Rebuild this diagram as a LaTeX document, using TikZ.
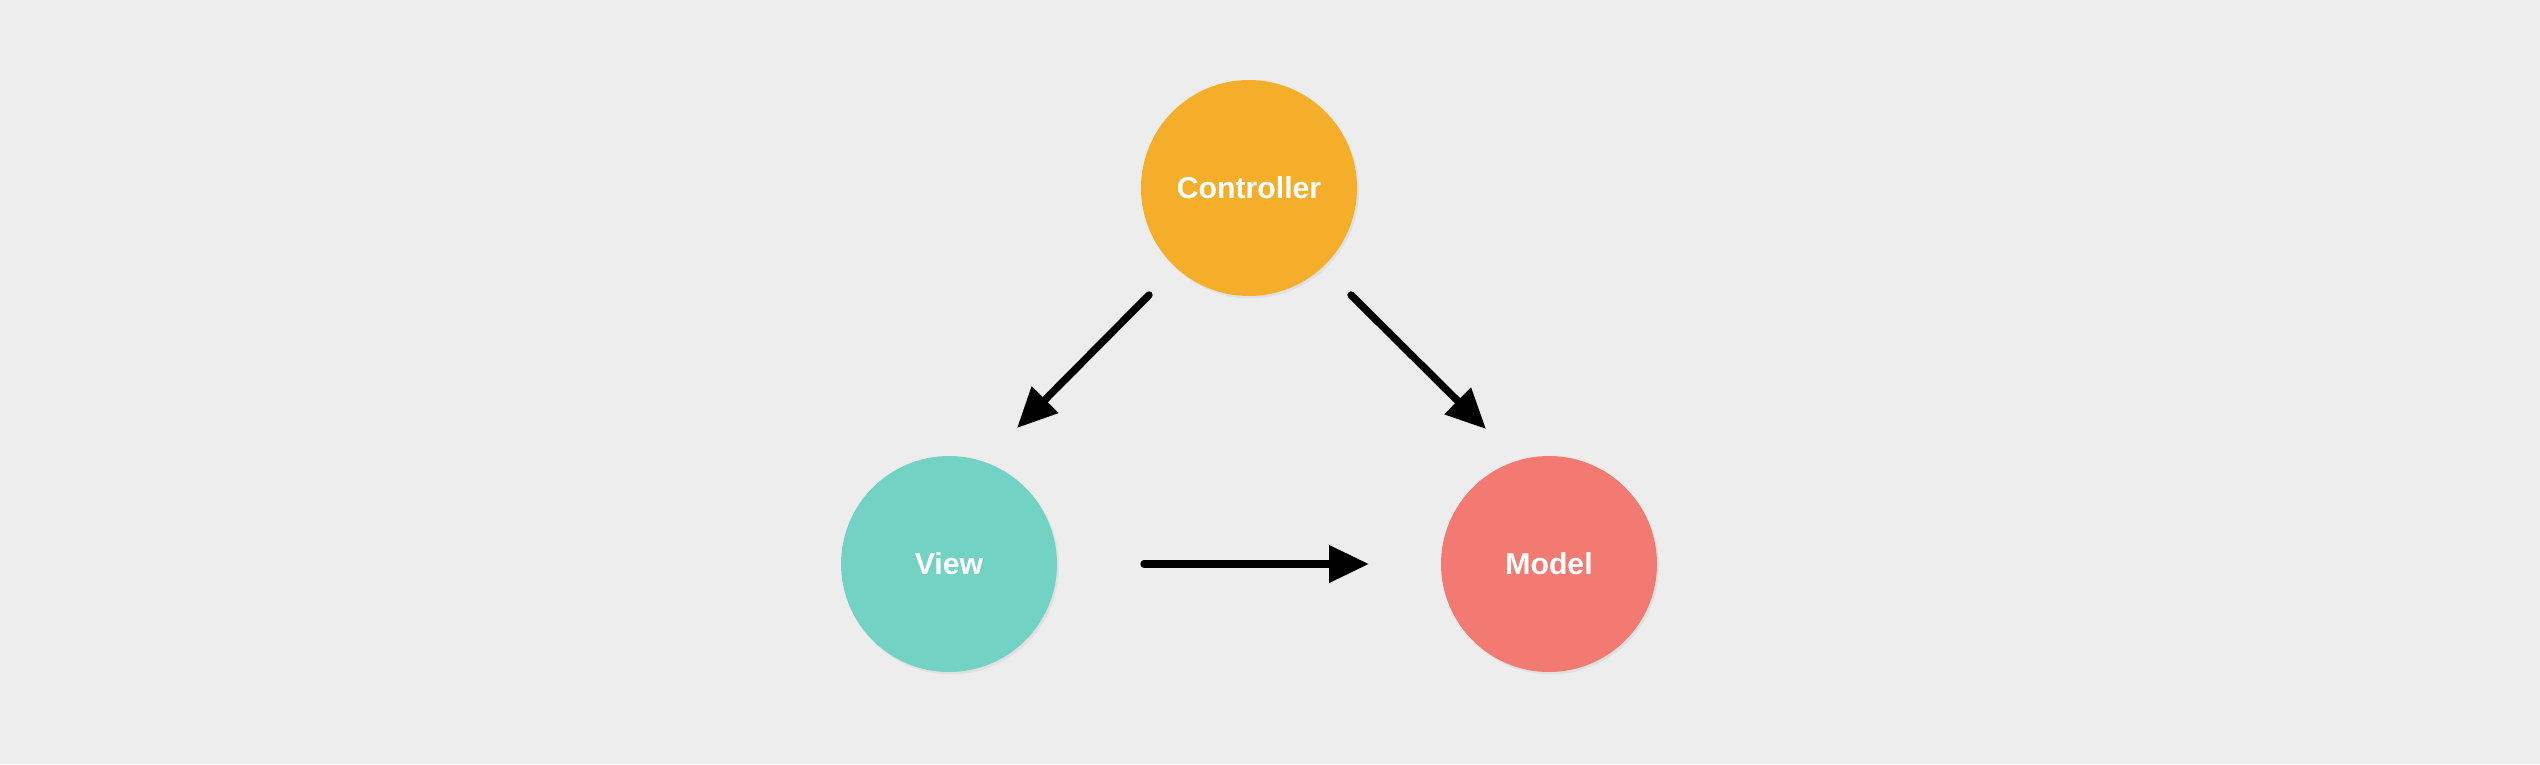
\documentclass[tikz,border=0pt]{standalone}
\usepackage{fontspec}
\setmainfont{Liberation Sans}
\usetikzlibrary{arrows.meta,shadows,calc}
\definecolor{bg}{HTML}{EDEDED}
\definecolor{ctrlc}{HTML}{F5AE2A}
\definecolor{viewc}{HTML}{72D3C5}
\definecolor{modelc}{HTML}{F27A72}
\tikzset{
  ball/.style={circle, minimum size=2.16cm, inner sep=0pt, text=white,
    font=\bfseries\fontsize{8.6}{10}\selectfont,
    drop shadow={opacity=0.10, shadow xshift=0.02cm, shadow yshift=-0.025cm}},
  link/.style={line width=2.1pt, black, line cap=round,
    -{Triangle[length=0.40cm,width=0.36cm]}}
}
\begin{document}
\begin{tikzpicture}
\fill[bg] (0,0) rectangle (25.40,7.64);
\useasboundingbox (0,0) rectangle (25.40,7.64);
\node[ball, fill=ctrlc] (ctrl) at (12.49,5.76) {Controller};
\node[ball, fill=viewc] (view) at (9.49,2.00) {View};
\node[ball, fill=modelc] (model) at (15.49,2.00) {Model};
\coordinate (c1) at ($(ctrl)+(-1.00,-1.07)$);
\coordinate (v1) at ($(view)+(0.68,1.36)$);
\coordinate (c2) at ($(ctrl)+(1.02,-1.07)$);
\coordinate (m1) at ($(model)+(-0.63,1.35)$);
\coordinate (v2) at ($(view)+(1.95,0)$);
\coordinate (m2) at ($(model)+(-1.80,0)$);
\draw[link] (c1) -- (v1);
\draw[link] (c2) -- (m1);
\draw[link] (v2) -- (m2);
\end{tikzpicture}
\end{document}
